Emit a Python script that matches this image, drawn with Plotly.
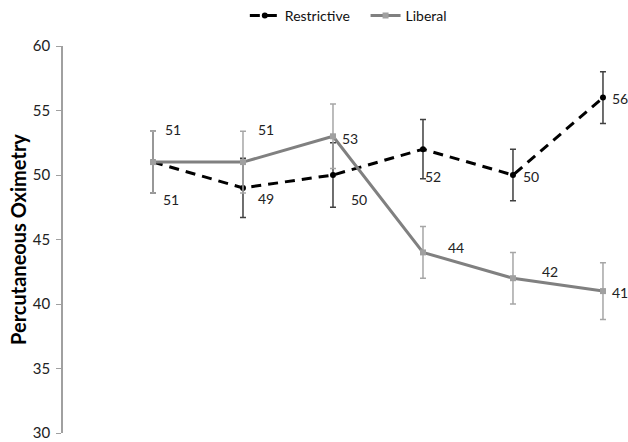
import plotly.graph_objects as go

# ---- data ----
timepoints = [0, 1, 2, 3, 4, 5]
restrictive = [51, 49, 50, 52, 50, 56]
restrictive_err = [2.4, 2.3, 2.5, 2.3, 2.0, 2.0]
liberal = [51, 51, 53, 44, 42, 41]
liberal_err = [2.4, 2.4, 2.5, 2.0, 2.0, 2.2]
y_ticks = [30, 35, 40, 45, 50, 55, 60]

# label offsets in pixels (x, y) relative to each point
restrictive_off = [(18, -37), (23, -11), (26, -24), (10, -27), (18, -1), (17, -1)]
liberal_off = [(20, 33), (23, 33), (17, -2), (33, 5), (37, 7), (17, -1)]

FONT = "Lato"

fig = go.Figure()
fig.add_trace(go.Scatter(
    x=timepoints, y=restrictive, name="Restrictive&nbsp;&nbsp;&nbsp;", mode="lines+markers",
    line=dict(color="black", width=3, dash="10px,7px"),
    marker=dict(symbol="circle", size=6, color="black"),
    error_y=dict(type="data", array=restrictive_err, visible=True,
                 color="#404040", thickness=1.5, width=3),
    cliponaxis=False,
))
fig.add_trace(go.Scatter(
    x=timepoints, y=liberal, name="Liberal", mode="lines+markers",
    line=dict(color="#808080", width=3),
    marker=dict(symbol="square", size=6, color="#a0a0a0"),
    error_y=dict(type="data", array=liberal_err, visible=True,
                 color="#a6a6a6", thickness=1.5, width=3),
    cliponaxis=False,
))

annotations = []
for xs, ys, offs in ((timepoints, restrictive, restrictive_off),
                     (timepoints, liberal, liberal_off)):
    for x, y, (dx, dy) in zip(xs, ys, offs):
        annotations.append(dict(
            x=x, y=y, xref="x", yref="y", text=str(y), showarrow=False,
            xshift=dx, yshift=dy, font=dict(family=FONT, size=14, color="#222"),
        ))

fig.update_layout(
    width=628, height=442,
    margin=dict(l=63, r=0, t=46, b=9, autoexpand=False),
    paper_bgcolor="white", plot_bgcolor="white",
    font=dict(family=FONT, color="#222"),
    showlegend=True,
    legend=dict(orientation="h", x=0.505, xanchor="center", y=1.078, yanchor="middle",
                font=dict(family=FONT, size=14, color="#111"),
                itemwidth=30, bgcolor="rgba(0,0,0,0)"),
    annotations=annotations,
    xaxis=dict(range=[-1.0, 5.278], showticklabels=False, showgrid=False,
               zeroline=False, showline=False, ticks="", automargin=False),
    yaxis=dict(range=[30, 60], tickvals=y_ticks, showgrid=False, zeroline=False,
               showline=True, linecolor="#a0a0a0", linewidth=1.5,
               ticks="outside", ticklen=5, tickcolor="#a0a0a0", automargin=False,
               ticklabelstandoff=3,
               tickfont=dict(family=FONT, size=15, color="#222"),
               title=dict(text="<b>Percutaneous Oximetry</b>", standoff=1,
                          font=dict(family=FONT, size=20, color="black"))),
)

fig.write_html("out.html", config={"displayModeBar": False},
               post_script="document.body.style.margin='0px';"
                           "document.body.style.overflow='hidden';")
